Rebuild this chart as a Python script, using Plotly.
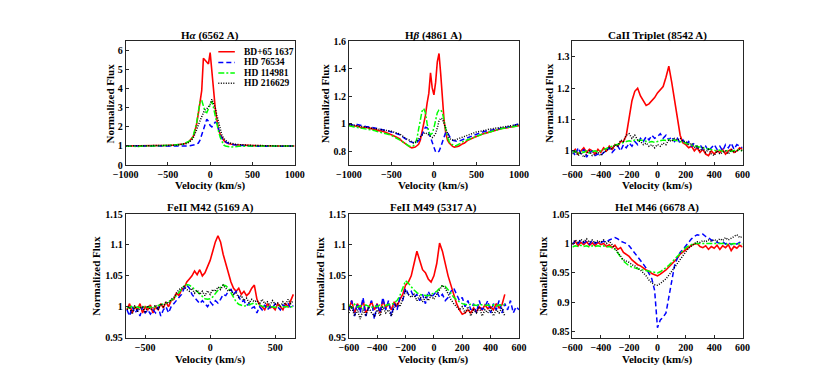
"""Emission line profiles of four Be stars, six panels."""

import plotly.graph_objects as go
from plotly.subplots import make_subplots

FIG_W = 822
FIG_H = 376
FONT = "Times New Roman, Liberation Serif, serif"

STARS = ["BD+65 1637", "HD 76534", "HD 114981", "HD 216629"]
COLORS = ["#ff0000", "#0000ff", "#00ff00", "#000000"]
DASHES = ["solid", "5px,3px", "6px,2px,2px,2px", "1px,1.5px"]

# velocity grid for H alpha / H beta (coarse wings, fine core)
V_WIDE = [-1000, -950, -900, -850, -800, -750, -700, -650, -600, -550, -500, -450, -400,
          -380, -360, -340, -320, -300, -280, -260, -240, -220, -200, -180, -160, -140, -120, -100, -80, -60, -40, -20,
          0, 20, 40, 60, 80, 100, 120, 140, 160, 180, 200, 220, 240, 260, 280, 300, 320, 340, 360, 380,
          400, 450, 500, 550, 600, 650, 700, 750, 800, 850, 900, 950, 1000]

V_600 = [-600, -580, -560, -540, -520, -500, -480, -460, -440, -420,
         -400, -380, -360, -340, -320, -300, -280, -260, -240, -220,
         -200, -180, -160, -140, -120, -100, -80, -60, -40, -20,
         0, 20, 40, 60, 80, 100, 120, 140, 160, 180,
         200, 220, 240, 260, 280, 300, 320, 340, 360, 380,
         400, 420, 440, 460, 480, 500, 520, 540, 560, 580,
         600]

V_640 = [-640, -620, -600, -580, -560, -540, -520, -500, -480, -460,
         -440, -420, -400, -380, -360, -340, -320, -300, -280, -260,
         -240, -220, -200, -180, -160, -140, -120, -100, -80, -60,
         -40, -20, 0, 20, 40, 60, 80, 100, 120, 140,
         160, 180, 200, 220, 240, 260, 280, 300, 320, 340,
         360, 380, 400, 420, 440, 460, 480, 500, 520, 540,
         560, 580, 600, 620, 640]

# ---- H alpha ----
HA_RED = [1.0, 1.0, 1.0, 1.0, 1.0, 1.0, 1.01, 1.01, 1.02, 1.02, 1.03, 1.04, 1.05,
          1.06, 1.07, 1.08, 1.1, 1.13, 1.16, 1.2, 1.28, 1.38, 1.5, 1.8, 2.15, 2.7, 3.4, 3.9, 5.6, 5.5, 5.35, 5.3,
          5.9, 4.8, 3.9, 3.0, 2.35, 1.85, 1.6, 1.42, 1.3, 1.2, 1.15, 1.12, 1.1, 1.08, 1.07, 1.06, 1.05, 1.05, 1.04, 1.04,
          1.04, 1.03, 1.02, 1.01, 1.01, 1.0, 1.0, 1.0, 1.0, 1.0, 1.0, 1.0, 1.0]
HA_BLUE = [1.0, 1.0, 1.0, 1.0, 0.99, 0.99, 0.99, 0.98, 0.98, 0.97, 0.97, 0.97, 0.98,
           0.98, 0.98, 0.98, 0.98, 0.98, 0.99, 1.0, 1.01, 1.02, 1.04, 1.07, 1.1, 1.15, 1.3, 1.55, 1.8, 2.1, 2.4, 2.3,
           2.07, 2.0, 2.1, 2.25, 2.2, 1.85, 1.55, 1.4, 1.3, 1.22, 1.17, 1.13, 1.1, 1.08, 1.06, 1.05, 1.04, 1.03, 1.02, 1.02,
           1.01, 1.0, 0.99, 0.98, 0.98, 0.97, 0.98, 0.98, 0.99, 0.99, 1.0, 1.0, 1.0]
HA_GREEN = [1.0, 0.99, 1.0, 0.97, 1.0, 0.99, 1.0, 1.0, 1.01, 1.02, 1.03, 1.04, 1.04,
            1.05, 1.06, 1.08, 1.1, 1.13, 1.17, 1.22, 1.28, 1.36, 1.55, 1.85, 2.2, 2.8, 3.3, 3.4, 3.05, 2.8, 2.75, 2.95,
            3.2, 3.35, 3.0, 2.55, 2.15, 1.75, 1.45, 1.2, 1.05, 1.0, 0.97, 0.96, 0.95, 0.95, 0.95, 0.96, 0.97, 0.98, 0.99, 0.99,
            1.0, 1.0, 1.0, 1.0, 1.0, 1.0, 1.0, 1.0, 1.0, 1.0, 1.0, 1.0, 1.0]
HA_BLACK = [1.0, 1.0, 1.0, 1.0, 1.0, 1.0, 1.0, 1.01, 1.01, 1.02, 1.02, 1.03, 1.04,
            1.05, 1.06, 1.07, 1.08, 1.1, 1.13, 1.17, 1.22, 1.3, 1.42, 1.6, 1.85, 2.1, 2.35, 2.5, 2.75, 2.9, 2.95, 3.05,
            3.2, 3.45, 3.25, 3.0, 2.6, 2.2, 1.85, 1.55, 1.4, 1.3, 1.22, 1.17, 1.14, 1.12, 1.1, 1.09, 1.08, 1.07, 1.06, 1.05,
            1.05, 1.04, 1.03, 1.02, 1.01, 1.01, 1.0, 1.0, 1.0, 1.0, 1.0, 1.0, 1.0]

# ---- H beta ----
HB_RED = [0.99, 0.98, 0.985, 0.97, 0.975, 0.965, 0.96, 0.95, 0.945, 0.935, 0.92, 0.905, 0.89,
          0.875, 0.865, 0.855, 0.845, 0.835, 0.83, 0.825, 0.825, 0.83, 0.84, 0.85, 0.88, 0.94, 1.0, 1.06, 1.15, 1.22, 1.37, 1.26,
          1.21, 1.3, 1.45, 1.51, 1.36, 1.18, 1.02, 0.93, 0.88, 0.86, 0.845, 0.835, 0.83, 0.83, 0.835, 0.84, 0.85, 0.855, 0.86, 0.87,
          0.88, 0.895, 0.91, 0.92, 0.93, 0.94, 0.95, 0.955, 0.965, 0.97, 0.975, 0.98, 0.985]
HB_BLUE = [1.0, 0.99, 0.995, 0.985, 0.98, 0.975, 0.97, 0.965, 0.955, 0.95, 0.94, 0.93, 0.92,
           0.91, 0.9, 0.895, 0.885, 0.875, 0.87, 0.865, 0.86, 0.86, 0.865, 0.875, 0.89, 0.92, 0.95, 0.975, 0.97, 0.935, 0.9, 0.86,
           0.82, 0.795, 0.79, 0.8, 0.83, 0.87, 0.91, 0.94, 0.935, 0.91, 0.89, 0.88, 0.875, 0.87, 0.87, 0.875, 0.88, 0.885, 0.89, 0.895,
           0.9, 0.915, 0.925, 0.935, 0.945, 0.95, 0.96, 0.965, 0.97, 0.975, 0.98, 0.99, 1.0]
HB_GREEN = [0.985, 0.98, 0.975, 0.97, 0.965, 0.955, 0.95, 0.94, 0.935, 0.925, 0.915, 0.9, 0.885,
            0.875, 0.865, 0.855, 0.845, 0.84, 0.835, 0.835, 0.84, 0.855, 0.89, 0.96, 1.04, 1.09, 1.11, 1.08, 1.0, 0.94, 0.92, 0.93,
            0.97, 1.03, 1.08, 1.1, 1.1, 1.08, 1.03, 0.96, 0.9, 0.87, 0.855, 0.845, 0.84, 0.84, 0.845, 0.85, 0.86, 0.87, 0.875, 0.88,
            0.885, 0.9, 0.91, 0.92, 0.93, 0.94, 0.95, 0.955, 0.965, 0.97, 0.975, 0.98, 0.985]
HB_BLACK = [0.995, 0.99, 0.99, 0.985, 0.98, 0.975, 0.97, 0.965, 0.96, 0.955, 0.945, 0.935, 0.925,
            0.915, 0.905, 0.9, 0.89, 0.885, 0.875, 0.865, 0.86, 0.865, 0.875, 0.89, 0.905, 0.92, 0.93, 0.935, 0.925, 0.915, 0.905, 0.9,
            0.91, 0.93, 0.97, 1.02, 1.04, 1.035, 1.0, 0.96, 0.92, 0.895, 0.885, 0.88, 0.88, 0.885, 0.89, 0.895, 0.9, 0.905, 0.91, 0.915,
            0.92, 0.93, 0.94, 0.945, 0.955, 0.96, 0.965, 0.97, 0.975, 0.98, 0.985, 0.99, 0.995]

# ---- CaII triplet ----
CA_RED = [0.995, 1.005, 0.99, 1.0, 1.01, 0.995, 1.005, 1.0, 0.99, 1.005,
          0.995, 1.01, 1.0, 1.015, 1.005, 1.02, 1.015, 1.03, 1.03, 1.05,
          1.1, 1.16, 1.19, 1.2, 1.175, 1.16, 1.145, 1.15, 1.16, 1.17,
          1.185, 1.195, 1.205, 1.235, 1.27, 1.22, 1.16, 1.1, 1.05, 1.025,
          1.02, 1.01, 1.015, 1.0, 1.01, 0.995, 1.005, 0.99, 0.985, 1.0,
          0.99, 1.0, 0.995, 1.005, 0.99, 1.0, 1.005, 0.995, 1.0, 1.01,
          1.005]
CA_BLUE = [1.0, 0.985, 1.01, 0.99, 1.005, 0.98, 0.995, 1.0, 0.985, 0.99,
           0.985, 0.995, 1.0, 1.01, 0.995, 1.005, 1.015, 1.0, 1.02, 1.01,
           1.025, 1.015, 1.03, 1.02, 1.04, 1.03, 1.045, 1.035, 1.05, 1.04,
           1.045, 1.055, 1.04, 1.05, 1.035, 1.045, 1.03, 1.04, 1.025, 1.035,
           1.02, 1.03, 1.015, 1.025, 1.01, 1.02, 1.005, 1.015, 1.0, 1.01,
           1.02, 1.005, 1.015, 1.0, 1.02, 1.01, 1.025, 1.005, 1.02, 1.015,
           1.01]
CA_GREEN = [0.995, 1.0, 0.99, 0.998, 0.995, 1.0, 0.993, 0.998, 1.0, 0.996,
            1.0, 1.005, 1.008, 1.012, 1.015, 1.02, 1.022, 1.025, 1.028, 1.03,
            1.032, 1.03, 1.035, 1.033, 1.035, 1.032, 1.03, 1.028, 1.03, 1.027,
            1.03, 1.032, 1.035, 1.033, 1.036, 1.034, 1.035, 1.032, 1.03, 1.028,
            1.025, 1.02, 1.018, 1.015, 1.012, 1.01, 1.008, 1.006, 1.005, 1.003,
            1.002, 1.0, 1.003, 0.998, 1.0, 1.002, 0.998, 1.0, 1.004, 1.0,
            1.002]
CA_BLACK = [0.99, 1.0, 0.985, 0.995, 0.98, 0.99, 1.0, 0.985, 0.99, 0.995,
            0.985, 0.995, 1.0, 1.01, 1.005, 1.02, 1.015, 1.035, 1.03, 1.05,
            1.055, 1.04, 1.05, 1.035, 1.03, 1.02, 1.025, 1.015, 1.02, 1.01,
            1.02, 1.015, 1.025, 1.02, 1.035, 1.03, 1.04, 1.035, 1.04, 1.03,
            1.03, 1.02, 1.025, 1.01, 1.015, 1.0, 1.01, 0.995, 1.005, 0.99,
            0.985, 1.0, 0.99, 0.995, 1.0, 0.99, 1.005, 0.995, 1.0, 1.005,
            1.0]

# ---- FeII M42 ----
M42_RED = [0.995, 1.005, 0.99, 1.0, 0.995, 1.005, 0.99, 1.0, 0.995, 1.003,
           0.99, 1.0, 0.995, 1.005, 0.998, 1.008, 1.0, 1.01, 1.012, 1.022,
           1.018, 1.028, 1.03, 1.04, 1.045, 1.05, 1.058, 1.052, 1.06, 1.05,
           1.055, 1.065, 1.075, 1.09, 1.105, 1.115, 1.105, 1.085, 1.07, 1.055,
           1.04, 1.03, 1.025, 1.03, 1.02, 1.025, 1.018, 1.022, 1.03, 1.035,
           1.012, 1.003, 1.0, 0.995, 1.005, 0.998, 1.0, 0.995, 1.005, 1.0,
           0.995, 1.005, 1.0, 1.01, 1.02]
M42_BLUE = [0.995, 0.985, 1.0, 0.99, 0.995, 0.985, 1.0, 0.99, 0.995, 0.988,
            0.995, 0.99, 1.0, 0.985, 0.995, 1.0, 0.99, 1.0, 1.005, 1.01,
            1.015, 1.02, 1.03, 1.035, 1.03, 1.02, 1.015, 1.01, 1.005, 1.01,
            1.005, 1.0, 1.008, 1.003, 1.01, 1.006, 1.012, 1.02, 1.018, 1.025,
            1.028, 1.02, 1.025, 1.015, 1.008, 1.01, 1.002, 1.005, 0.998, 1.0,
            0.99, 1.0, 0.995, 1.003, 0.995, 1.0, 0.998, 1.005, 1.0, 0.995,
            1.003, 1.0, 1.005, 0.998, 1.002]
M42_GREEN = [1.0, 0.998, 1.002, 0.997, 1.0, 0.998, 1.001, 0.998, 1.0, 0.999,
             1.0, 1.0, 1.002, 1.003, 1.004, 1.006, 1.008, 1.01, 1.013, 1.018,
             1.024, 1.03, 1.034, 1.036, 1.035, 1.032, 1.028, 1.024, 1.02, 1.016,
             1.013, 1.012, 1.013, 1.016, 1.022, 1.028, 1.032, 1.035, 1.034, 1.03,
             1.022, 1.014, 1.008, 1.004, 1.002, 1.001, 1.002, 1.003, 1.005, 1.006,
             1.004, 1.002, 1.001, 1.0, 1.0, 1.001, 1.0, 0.999, 1.0, 1.001,
             1.0, 1.0, 1.001, 1.0, 1.0]
M42_BLACK = [0.995, 1.0, 0.988, 1.002, 0.992, 0.998, 1.0, 0.99, 1.002, 0.995,
             0.998, 1.003, 0.995, 1.005, 1.0, 1.008, 1.005, 1.012, 1.015, 1.022,
             1.028, 1.03, 1.033, 1.028, 1.025, 1.03, 1.022, 1.027, 1.02, 1.025,
             1.018, 1.026, 1.02, 1.028, 1.025, 1.032, 1.028, 1.035, 1.03, 1.025,
             1.028, 1.02, 1.022, 1.015, 1.018, 1.01, 1.014, 1.006, 1.012, 1.008,
             1.01, 1.004, 1.012, 1.005, 1.008, 1.002, 1.01, 1.004, 1.006, 1.0,
             1.008, 1.003, 1.012, 1.005, 1.01]

# ---- FeII M49 (red, green, black stop at +500 km/s) ----
M49_RED = [0.995, 1.01, 0.99, 1.005, 0.995, 1.01, 0.99, 1.0, 1.008, 0.995,
           1.005, 0.99, 1.01, 0.998, 1.005, 0.995, 1.008, 1.0, 1.012, 1.02,
           1.035, 1.04, 1.05, 1.07, 1.09, 1.075, 1.06, 1.055, 1.045, 1.04,
           1.05, 1.07, 1.103, 1.09, 1.068, 1.05, 1.035, 1.02, 1.005, 0.995,
           0.988, 0.99, 0.995, 0.99, 0.998, 0.992, 1.0, 0.995, 1.003, 0.997,
           1.0, 0.995, 1.005, 0.998, 1.003, 1.02]
M49_BLUE = [0.995, 1.01, 0.985, 1.005, 0.99, 1.015, 0.985, 1.0, 1.01, 0.98,
            1.005, 0.99, 1.015, 0.995, 1.01, 0.985, 1.005, 0.995, 1.015, 1.01,
            1.03, 1.02, 1.025, 1.015, 1.02, 1.01, 1.02, 1.005, 1.025, 1.015,
            1.02, 1.025, 1.015, 1.02, 1.01, 1.015, 1.025, 1.03, 1.02, 1.01,
            1.015, 1.0, 1.01, 0.995, 1.005, 0.99, 1.01, 0.995, 1.0, 1.01,
            0.99, 1.005, 0.995, 1.01, 0.99, 1.005, 0.995, 1.01, 0.99, 1.0,
            0.995]
M49_GREEN = [1.003, 0.998, 1.004, 0.999, 1.002, 0.997, 1.003, 1.0, 0.998, 1.002,
             1.0, 1.003, 0.999, 1.002, 1.004, 1.003, 1.006, 1.01, 1.018, 1.03,
             1.042, 1.038, 1.032, 1.027, 1.023, 1.02, 1.019, 1.018, 1.018, 1.02,
             1.022, 1.025, 1.03, 1.034, 1.033, 1.028, 1.022, 1.015, 1.011, 1.008,
             1.005, 1.004, 1.003, 1.004, 1.003, 1.002, 1.004, 1.003, 1.002, 1.003,
             1.002, 1.003, 1.001, 1.003, 1.002, 1.004]
M49_BLACK = [0.99, 1.0, 0.985, 0.995, 0.98, 0.995, 0.985, 1.0, 0.99, 0.985,
             0.995, 0.985, 1.0, 0.99, 0.995, 0.985, 1.0, 1.005, 1.0, 1.012,
             1.025, 1.02, 1.015, 1.02, 1.01, 1.018, 1.008, 1.015, 1.01, 1.018,
             1.012, 1.02, 1.028, 1.035, 1.03, 1.02, 1.012, 1.005, 1.0, 0.995,
             1.0, 0.99, 1.0, 0.985, 0.995, 0.99, 1.0, 0.985, 0.995, 0.99,
             0.998, 0.985, 0.995, 0.99, 0.998, 0.985]

# ---- HeI M46 ----
HE_RED = [0.998, 1.004, 0.996, 1.002, 0.998, 1.003, 0.997, 1.001, 0.996, 1.002,
          0.998, 1.0, 0.995, 0.998, 0.993, 0.997, 0.99, 0.993, 0.985, 0.982,
          0.978, 0.972, 0.968, 0.964, 0.962, 0.958, 0.955, 0.953, 0.949, 0.947,
          0.945, 0.948, 0.951, 0.955, 0.96, 0.965, 0.97, 0.975, 0.982, 0.986,
          0.99, 0.994, 0.997, 0.999, 1.0, 0.995, 0.993, 0.996, 0.99, 0.995,
          0.992, 0.997, 0.99, 0.996, 0.993, 0.998, 0.988, 0.995, 0.992, 0.997,
          0.994]
HE_BLUE = [0.998, 1.005, 1.0, 1.006, 1.001, 1.004, 0.999, 1.005, 1.0, 1.003,
           1.001, 1.004, 1.002, 1.006, 1.008, 1.01, 1.008, 1.004, 1.002, 1.0,
           0.996, 0.99, 0.984, 0.978, 0.972, 0.965, 0.958, 0.95, 0.94, 0.92,
           0.857, 0.87, 0.875, 0.882, 0.91, 0.94, 0.962, 0.975, 0.985, 0.99,
           0.996, 1.002, 1.008, 1.012, 1.015, 1.014, 1.016, 1.012, 1.01, 1.006,
           1.004, 1.002, 1.0, 1.003, 0.999, 1.002, 0.998, 1.001, 0.999, 1.002,
           1.0]
HE_GREEN = [0.994, 0.996, 0.995, 0.997, 0.995, 0.996, 0.994, 0.996, 0.995, 0.996,
            0.995, 0.996, 0.994, 0.995, 0.993, 0.99, 0.984, 0.976, 0.97, 0.966,
            0.962, 0.96, 0.958, 0.957, 0.956, 0.955, 0.953, 0.952, 0.951, 0.95,
            0.95, 0.952, 0.955, 0.959, 0.963, 0.968, 0.973, 0.978, 0.983, 0.988,
            0.993, 0.996, 0.998, 1.0, 1.0, 1.0, 0.999, 1.0, 0.999, 1.0,
            1.0, 0.999, 1.0, 0.999, 1.0, 0.998, 0.999, 1.0, 0.999, 1.0,
            0.999]
HE_BLACK = [1.0, 1.006, 1.002, 1.007, 1.003, 1.008, 1.002, 1.006, 1.001, 1.005,
            1.002, 1.006, 1.0, 1.004, 0.998, 0.992, 0.985, 0.978, 0.972, 0.97,
            0.968, 0.964, 0.962, 0.958, 0.955, 0.95, 0.945, 0.938, 0.933, 0.93,
            0.929, 0.932, 0.936, 0.94, 0.946, 0.953, 0.96, 0.966, 0.972, 0.98,
            0.986, 0.992, 0.996, 1.0, 1.003, 1.002, 1.005, 1.003, 1.006, 1.004,
            1.007, 1.004, 1.008, 1.005, 1.01, 1.006, 1.009, 1.012, 1.015, 1.01,
            1.012]

PANELS = [
    {"title": "H<i>α</i> (6562 A)", "v": V_WIDE, "flux": [HA_RED, HA_BLUE, HA_GREEN, HA_BLACK],
     "xrange": [-1000, 1000], "xticks": [-1000, -500, 0, 500, 1000],
     "yrange": [0, 6.5], "yticks": [0, 1, 2, 3, 4, 5, 6], "ytitle_x": 92},
    {"title": "H<i>β</i> (4861 A)", "v": V_WIDE, "flux": [HB_RED, HB_BLUE, HB_GREEN, HB_BLACK],
     "xrange": [-1000, 1000], "xticks": [-1000, -500, 0, 500, 1000],
     "yrange": [0.7, 1.6], "yticks": [0.8, 1, 1.2, 1.4, 1.6], "ytitle_x": 313},
    {"title": "CaII Triplet (8542 A)", "v": V_600, "flux": [CA_RED, CA_BLUE, CA_GREEN, CA_BLACK],
     "xrange": [-600, 600], "xticks": [-600, -400, -200, 0, 200, 400, 600],
     "yrange": [0.955, 1.35], "yticks": [1, 1.1, 1.2, 1.3], "ytitle_x": 543},
    {"title": "FeII M42 (5169 A)", "v": V_640, "flux": [M42_RED, M42_BLUE, M42_GREEN, M42_BLACK],
     "xrange": [-650, 650], "xticks": [-500, 0, 500],
     "yrange": [0.95, 1.15], "yticks": [0.95, 1, 1.05, 1.1, 1.15], "ytitle_x": 77},
    {"title": "FeII M49 (5317 A)", "v": V_600, "flux": [M49_RED, M49_BLUE, M49_GREEN, M49_BLACK],
     "xrange": [-600, 600], "xticks": [-600, -400, -200, 0, 200, 400, 600],
     "yrange": [0.95, 1.15], "yticks": [0.95, 1, 1.05, 1.1, 1.15], "ytitle_x": 307},
    {"title": "HeI M46 (6678 A)", "v": V_600, "flux": [HE_RED, HE_BLUE, HE_GREEN, HE_BLACK],
     "xrange": [-600, 600], "xticks": [-600, -400, -200, 0, 200, 400, 600],
     "yrange": [0.84, 1.05], "yticks": [0.85, 0.9, 0.95, 1, 1.05], "ytitle_x": 537},
]

# plot-area edges in pixels
COL_X = [(107.7, 281.5), (337.3, 512.3), (567.3, 742.3)]
ROW_Y = [(28, 156), (206.7, 334.3)]
XTITLE_Y = [177, 357]
TITLE_Y = [22, 200]

# hand-drawn legend inside the H alpha panel (pixels)
LEGEND_ROWS_Y = [39, 50, 61, 71.5]
LEGEND_LINE_X = (203, 220)
LEGEND_TEXT_X = 227


def _px(x):
    return x / FIG_W


def _py(y):
    return 1 - y / FIG_H


def _font(size):
    return {"family": FONT, "size": size, "color": "#000000", "weight": "bold"}


fig = make_subplots(rows=2, cols=3)
annotations = []
shapes = []

for idx, panel in enumerate(PANELS):
    row, col = idx // 3 + 1, idx % 3 + 1
    x0, x1 = COL_X[col - 1]
    y0, y1 = ROW_Y[row - 1]
    for star, color, dash, flux in zip(STARS, COLORS, DASHES, panel["flux"]):
        assert len(flux) <= len(panel["v"]), (panel["title"], star, len(flux))
        fig.add_trace(
            go.Scatter(
                x=panel["v"][: len(flux)],
                y=flux,
                mode="lines",
                name=star,
                showlegend=False,
                line={"color": color, "dash": dash, "width": 1.5 if dash != "solid" else 1.6},
                hovertemplate="%{x} km/s<br>%{y:.3f}<extra>" + star + "</extra>",
            ),
            row=row,
            col=col,
        )
    axis_style = dict(
        showline=True,
        linecolor="#262626",
        linewidth=0.8,
        mirror=True,
        ticks="inside",
        ticklen=3,
        tickwidth=0.8,
        tickcolor="#262626",
        showgrid=False,
        zeroline=False,
        tickfont=_font(10),
    )
    fig.update_xaxes(domain=[_px(x0), _px(x1)], range=panel["xrange"], tickvals=panel["xticks"],
                     row=row, col=col, **axis_style)
    fig.update_yaxes(domain=[_py(y1), _py(y0)], range=panel["yrange"], tickvals=panel["yticks"],
                     row=row, col=col, **axis_style)

    xc = (x0 + x1) / 2
    annotations.append(dict(text=panel["title"], x=_px(xc), y=_py(TITLE_Y[row - 1]), xref="paper", yref="paper",
                            xanchor="center", yanchor="middle", showarrow=False, font=_font(11)))
    annotations.append(dict(text="Velocity (km/s)", x=_px(xc), y=_py(XTITLE_Y[row - 1]), xref="paper", yref="paper",
                            xanchor="center", yanchor="middle", showarrow=False, font=_font(11)))
    annotations.append(dict(text="Normalized Flux", x=_px(panel["ytitle_x"]), y=_py((y0 + y1) / 2),
                            xref="paper", yref="paper", xanchor="center", yanchor="middle",
                            textangle=-90, showarrow=False, font=_font(11)))

for star, color, dash, ly in zip(STARS, COLORS, DASHES, LEGEND_ROWS_Y):
    shapes.append(dict(type="line", xref="paper", yref="paper",
                       x0=_px(LEGEND_LINE_X[0]), x1=_px(LEGEND_LINE_X[1]), y0=_py(ly), y1=_py(ly),
                       line={"color": color, "dash": dash, "width": 1.5}))
    annotations.append(dict(text=star, x=_px(LEGEND_TEXT_X), y=_py(ly), xref="paper", yref="paper",
                            xanchor="left", yanchor="middle", showarrow=False, font=_font(9.5)))

fig.update_layout(
    width=FIG_W,
    height=FIG_H,
    margin={"l": 0, "r": 0, "t": 0, "b": 0},
    paper_bgcolor="#ffffff",
    plot_bgcolor="#ffffff",
    showlegend=False,
    annotations=annotations,
    shapes=shapes,
)

fig.write_html("out.html")
